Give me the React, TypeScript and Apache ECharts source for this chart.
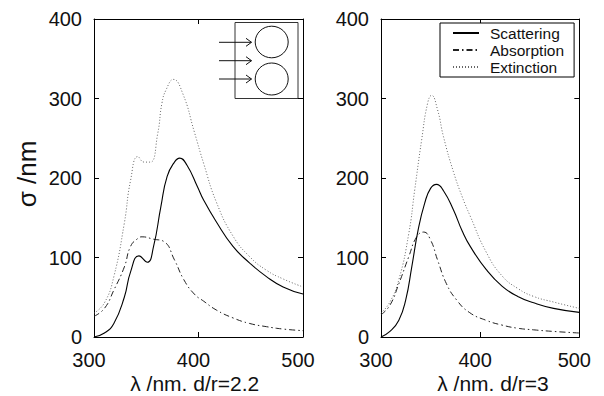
import React, { useEffect, useRef } from "react";
import * as echarts from "echarts";

// ---- Data ----
const seriesNames = ["Scattering", "Absorption", "Extinction"];
const xTickValues = { min: 300, max: 500, interval: 100 };
const yTickValues = { min: 0, max: 400, interval: 100 };
const xTitles = ["λ /nm. d/r=2.2", "λ /nm. d/r=3"];
const yTitle = "σ /nm";

// left panel: d/r = 2.2
const leftScatLam = [300, 310, 319, 329, 335, 343, 351, 357, 364, 370, 377, 382, 389, 399, 405, 417, 433, 449, 465, 481, 500];
const leftScatVal = [0, 5, 17, 50, 82, 102, 94, 114, 164, 202, 220, 225, 216, 189, 172, 145, 114, 93, 76, 63, 54];
const leftAbsLam = [300, 310, 319, 329, 335, 342, 346, 357, 367, 377, 386, 396, 405, 417, 433, 449, 465, 481, 500];
const leftAbsVal = [26, 36, 59, 88, 114, 124, 126, 123, 120, 97, 72, 54, 45, 34, 24, 17, 13, 10, 8];
const leftExtLam = [300, 310, 319, 329, 335, 342, 348, 354, 361, 365, 369, 376, 385, 396, 405, 417, 433, 449, 465, 481, 500];
const leftExtVal = [30, 43, 76, 143, 197, 227, 220, 220, 256, 294, 311, 324, 306, 258, 218, 170, 127, 101, 84, 73, 63];

// right panel: d/r = 3
const rightScatLam = [300, 309, 318, 325, 331, 337.5, 344, 350, 356, 363, 373, 382, 390, 406, 422, 438, 454, 474, 500];
const rightScatVal = [0, 7, 21, 47, 88, 135, 168, 187, 192, 184, 160, 133, 114, 85, 64, 51, 43, 36, 31];
const rightAbsLam = [300, 309, 318, 328, 336, 343, 350, 357, 366, 376, 389, 406, 422, 438, 454, 474, 500];
const rightAbsVal = [28, 40, 67, 101, 126, 132, 122, 97, 67, 47, 31, 21, 15, 11, 9, 7, 5];
const rightExtLam = [300, 309, 318, 328, 334, 341, 347, 351, 357, 363, 373, 382, 390, 406, 422, 438, 454, 474, 500];
const rightExtVal = [30, 44, 72, 130, 185, 248, 294, 304, 286, 252, 208, 176, 152, 107, 77, 61, 51, 44, 36];

const zip = (a: number[], b: number[]) => a.map((x, i) => [x, b[i]]);

const FONT = "Liberation Sans";

const styles: Record<string, any> = {
  Scattering: { color: "#000", width: 1.1, type: "solid" },
  Absorption: { color: "#222", width: 1, type: [6, 3, 1.5, 3] },
  Extinction: { color: "#666", width: 1, type: [1, 2] },
};

export default function App() {
  const ref = useRef<HTMLDivElement>(null);
  useEffect(() => {
    if (!ref.current) return;
    const chart = echarts.init(ref.current, undefined, { renderer: "svg" });

    const grids = [
      { left: 94, top: 19, width: 209, height: 318 },
      { left: 381, top: 19, width: 208, height: 318 },
    ];

    const xAxes: any[] = [];
    const yAxes: any[] = [];
    grids.forEach((_, gi) => {
      ["bottom", "top"].forEach((pos, k) => {
        xAxes.push({
          type: "value",
          gridIndex: gi,
          position: pos,
          ...xTickValues,
          axisLine: { show: true, onZero: false, lineStyle: { color: "#000", width: 1 } },
          axisTick: { show: true, inside: true, length: 5, lineStyle: { color: "#000" } },
          axisLabel: {
            show: k === 0,
            color: "#111",
            fontFamily: FONT,
            fontSize: 20,
            lineHeight: 20,
            margin: 12.5,
            padding: [0, 10, 0, 0],
          },
          splitLine: { show: false },
        });
      });
      ["left", "right"].forEach((pos, k) => {
        yAxes.push({
          type: "value",
          gridIndex: gi,
          position: pos,
          ...yTickValues,
          axisLine: { show: true, onZero: false, lineStyle: { color: "#000", width: 1 } },
          axisTick: { show: true, inside: true, length: 5, lineStyle: { color: "#000" } },
          axisLabel: {
            show: k === 0,
            color: "#111",
            fontFamily: FONT,
            fontSize: 20,
            lineHeight: 20,
            margin: 12,
            padding: [3, 0, 0, 0],
          },
          splitLine: { show: false },
        });
      });
    });

    const panelData = [
      {
        Scattering: zip(leftScatLam, leftScatVal),
        Absorption: zip(leftAbsLam, leftAbsVal),
        Extinction: zip(leftExtLam, leftExtVal),
      },
      {
        Scattering: zip(rightScatLam, rightScatVal),
        Absorption: zip(rightAbsLam, rightAbsVal),
        Extinction: zip(rightExtLam, rightExtVal),
      },
    ];

    const series: any[] = [];
    seriesNames.forEach((name) => {
      panelData.forEach((pd: any, gi) => {
        series.push({
          type: "line",
          name,
          xAxisIndex: gi * 2,
          yAxisIndex: gi * 2,
          data: pd[name],
          symbol: "none",
          smooth: 0.5,
          lineStyle: styles[name],
          itemStyle: { color: styles[name].color },
          z: name === "Scattering" ? 4 : name === "Absorption" ? 3 : 2,
        });
      });
    });

    const arrowYs = [42.3, 60.7, 79];
    const inset: any[] = [
      { type: "rect", shape: { x: 235, y: 22.5, width: 63, height: 76 }, style: { fill: "none", stroke: "#333", lineWidth: 1 } },
      { type: "ellipse", shape: { cx: 271.7, cy: 42, rx: 16.5, ry: 15.8 }, style: { fill: "none", stroke: "#111", lineWidth: 1 } },
      { type: "ellipse", shape: { cx: 271.7, cy: 79, rx: 16.5, ry: 16 }, style: { fill: "none", stroke: "#111", lineWidth: 1 } },
    ];
    arrowYs.forEach((y) => {
      inset.push({ type: "line", shape: { x1: 219, y1: y, x2: 251.5, y2: y }, style: { stroke: "#111", lineWidth: 1 } });
      inset.push({
        type: "polyline",
        shape: { points: [[246, y - 4], [251.5, y], [246, y + 4]] },
        style: { fill: "none", stroke: "#111", lineWidth: 1 },
      });
    });

    chart.setOption({
      animation: false,
      backgroundColor: "#fff",
      grid: grids.map((g) => ({ ...g, containLabel: false })),
      xAxis: xAxes,
      yAxis: yAxes,
      series,
      legend: {
        data: seriesNames,
        orient: "vertical",
        left: 440,
        top: 23,
        padding: [2, 10, 2, 12],
        itemWidth: 26,
        itemHeight: 14,
        itemGap: 1,
        borderColor: "#000",
        borderWidth: 1,
        backgroundColor: "#fff",
        itemStyle: { opacity: 0 },
        textStyle: { fontFamily: FONT, fontSize: 15.5, color: "#111", lineHeight: 14, padding: [0, 0, 0, 6] },
      },
      graphic: [
        ...inset,
        {
          type: "text",
          x: 194.7,
          y: 383.5,
          style: { text: xTitles[0], fontFamily: FONT, fontSize: 21, fill: "#111", align: "center", verticalAlign: "middle" },
        },
        {
          type: "text",
          x: 493,
          y: 383.5,
          style: { text: xTitles[1], fontFamily: FONT, fontSize: 21, fill: "#111", align: "center", verticalAlign: "middle" },
        },
        {
          type: "text",
          x: 27,
          y: 174,
          rotation: Math.PI / 2,
          style: { text: yTitle, fontFamily: FONT, fontSize: 26, fill: "#111", align: "center", verticalAlign: "middle" },
        },
      ],
    });
    return () => chart.dispose();
  }, []);
  return <div ref={ref} style={{ position: "fixed", left: 0, top: 0, width: 604, height: 396 }} />;
}
